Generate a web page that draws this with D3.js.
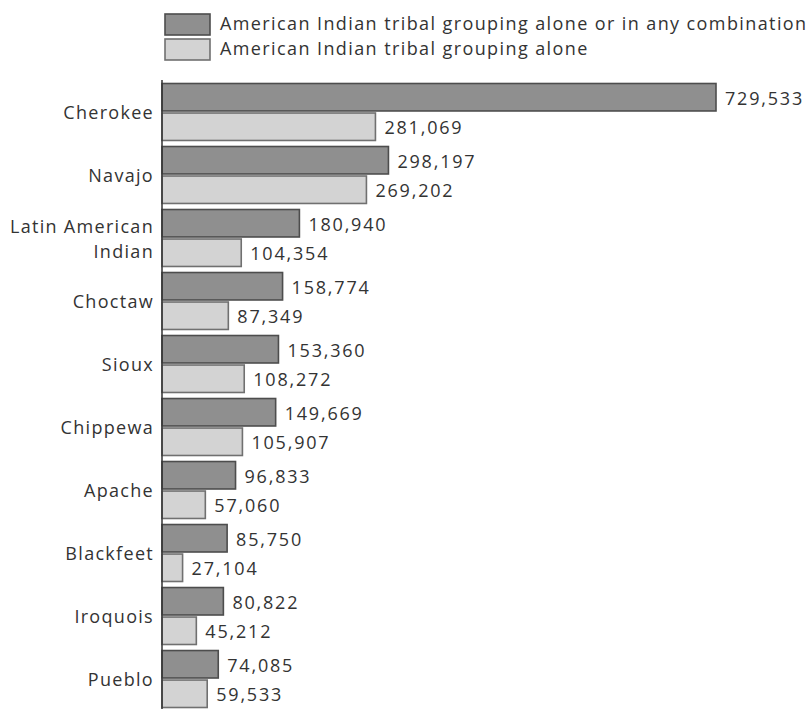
<!DOCTYPE html>
<html>
<head>
<meta charset="utf-8">
<script src="https://cdn.jsdelivr.net/npm/d3@7"></script>
<style>
    body { margin: 0; background: #fff; }
    text { font-family: 'Open Sans', sans-serif; fill: #333; }
</style>
</head>
<body>
<script>
const tribes = ['Cherokee', 'Navajo', 'Latin American Indian', 'Choctaw', 'Sioux',
    'Chippewa', 'Apache', 'Blackfeet', 'Iroquois', 'Pueblo'];
const aloneOrCombo = [729533, 298197, 180940, 158774, 153360, 149669, 96833, 85750, 80822, 74085];
const aloneOnly = [281069, 269202, 104354, 87349, 108272, 105907, 57060, 27104, 45212, 59533];
const seriesNames = ['American Indian tribal grouping alone or in any combination',
    'American Indian tribal grouping alone'];

drawChart();

function drawChart()
{
    const width = 812;
    const height = 709;
    const fills = ['#8f8f8f', '#d3d3d3'];
    const strokes = ['#4d4d4d', '#707070'];

    const svg = d3.select('body')
        .append('svg')
        .attr('width', width)
        .attr('height', height);

    const x = d3.scaleLinear().domain([0, 729533]).range([162, 716]);
    const y = d3.scaleBand().domain(tribes).range([83, 708]).paddingInner(0.08).paddingOuter(0);
    const ySub = d3.scaleBand().domain([0, 1]).range([0, y.bandwidth()]).paddingInner(0.035);

    const rows = tribes.map((t, i) => ({tribe: t, values: [aloneOrCombo[i], aloneOnly[i]]}));

    const groups = svg.selectAll('g.group')
        .data(rows)
        .enter()
        .append('g')
        .attr('class', 'group')
        .attr('transform', d => `translate(0,${y(d.tribe)})`);

    groups.selectAll('rect')
        .data(d => d.values.map((v, k) => ({v, k})))
        .enter()
        .append('rect')
        .attr('x', x(0))
        .attr('y', d => ySub(d.k) + 0.5)
        .attr('width', d => x(d.v) - x(0))
        .attr('height', ySub.bandwidth() - 1)
        .attr('fill', d => fills[d.k])
        .attr('stroke', d => strokes[d.k])
        .attr('stroke-width', 1.6);

    groups.selectAll('text.value')
        .data(d => d.values.map((v, k) => ({v, k})))
        .enter()
        .append('text')
        .attr('class', 'value')
        .attr('x', d => x(d.v) + 9)
        .attr('y', d => ySub(d.k) + ySub.bandwidth() / 2 + 7.5)
        .attr('font-size', 18)
        .attr('letter-spacing', 1.8)
        .text(d => d3.format(',')(d.v));

    // category labels, wrapping the long one
    const labels = svg.append('g')
        .selectAll('text')
        .data(tribes)
        .enter()
        .append('text')
        .attr('text-anchor', 'end')
        .attr('font-size', 18)
        .attr('letter-spacing', 1.3)
        .attr('x', 154)
        .attr('y', d => y(d) + y.bandwidth() / 2 + 7);

    labels.each(function(d)
    {
        const t = d3.select(this);
        if (d === 'Latin American Indian')
        {
            t.append('tspan').attr('x', 154).attr('dy', -12).text('Latin American');
            t.append('tspan').attr('x', 154).attr('dy', 25).text('Indian');
        }
        else
        {
            t.text(d);
        }
    });

    svg.append('line')
        .attr('x1', 162).attr('x2', 162)
        .attr('y1', 80).attr('y2', height)
        .attr('stroke', '#333')
        .attr('stroke-width', 1.5);

    // legend
    const legend = svg.append('g')
        .selectAll('g')
        .data(seriesNames)
        .enter()
        .append('g')
        .attr('transform', (d, i) => `translate(165,${14 + i * 25})`);

    legend.append('rect')
        .attr('width', 45)
        .attr('height', 21)
        .attr('fill', (d, i) => fills[i])
        .attr('stroke', (d, i) => strokes[i])
        .attr('stroke-width', 1.6);

    legend.append('text')
        .attr('x', 55)
        .attr('y', 16)
        .attr('font-size', 18)
        .attr('letter-spacing', 1.4)
        .text(d => d);
}
</script>
</body>
</html>
